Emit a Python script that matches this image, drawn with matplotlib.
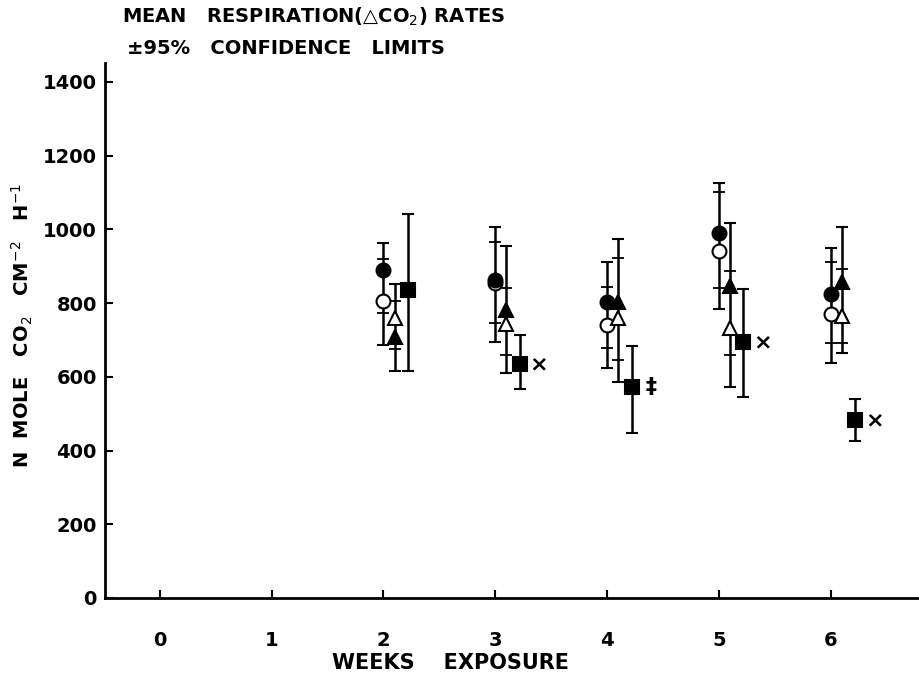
import matplotlib
matplotlib.use("Agg")
import matplotlib.pyplot as plt
import numpy as np

plt.rcParams['font.family'] = ['DejaVu Sans']

weeks = [2, 3, 4, 5, 6]
tick_weeks = [0, 1, 2, 3, 4, 5, 6]
y_ticks = [0, 200, 400, 600, 800, 1000, 1200, 1400]

# series means
fc_mean = [890, 862, 803, 990, 825]   # filled circle
oc_mean = [806, 855, 741, 941, 770]   # open circle
ft_mean = [708, 781, 803, 846, 857]   # filled triangle
ot_mean = [760, 743, 760, 733, 765]   # open triangle
sq_mean = [836, 635, 572, 694, 483]   # filled square

# shared confidence bars of the circle pair (outer caps, inner ticks)
circ_top = [963, 1006, 912, 1126, 950]
circ_in_top = [920, 966, 844, 1102, 911]
circ_in_bot = [773, 746, 678, 841, 692]
circ_bot = [686, 695, 624, 784, 638]

# shared confidence bars of the triangle pair
tri_top = [852, 955, 974, 1017, 1007]
tri_in_top = [806, 841, 922, 887, 893]
tri_in_bot = [676, 659, 646, 659, 692]
tri_bot = [616, 610, 586, 573, 665]

# square confidence limits
sq_top = [1042, 714, 684, 838, 540]
sq_bot = [616, 567, 448, 545, 426]

sig_weeks = [3, 4, 5, 6]
sig_marks = ['×', '‡', '×', '×']
sig_vals = [635, 572, 694, 483]

fig = plt.figure(figsize=(9.2, 6.79), dpi=100)
ax = fig.add_axes([0.1141, 0.1193, 0.8859, 0.7877])
ax.set_xlim(-0.49, 6.80)
ax.set_ylim(0, 1451)

lw = 1.8
capw = 8


def bar(offset, top, bot, in_top=None, in_bot=None):
    x = np.array(weeks) + offset
    ax.vlines(x, bot, top, color='black', lw=lw, zorder=2)
    for arr in (top, bot):
        ax.plot(x, arr, ls='none', marker='_', ms=capw, mew=1.5,
                color='black', zorder=2)
    for arr in (in_top, in_bot):
        if arr is not None:
            ax.plot(x, arr, ls='none', marker='_', ms=capw, mew=1.3,
                    color='black', zorder=2)


def points(offset, mean, marker, face, zo):
    x = np.array(weeks) + offset
    ax.plot(x, mean, ls='none', marker=marker, ms=10, mfc=face, mec='black',
            mew=1.5, zorder=zo)


bar(0.0, circ_top, circ_bot, circ_in_top, circ_in_bot)
bar(0.1, tri_top, tri_bot, tri_in_top, tri_in_bot)
bar(0.22, sq_top, sq_bot)

points(0.0, oc_mean, 'o', 'white', 3)
points(0.0, fc_mean, 'o', 'black', 4)
points(0.1, ft_mean, '^', 'black', 3)
points(0.1, ot_mean, '^', 'white', 4)
points(0.22, sq_mean, 's', 'black', 3)

for w, m, v in zip(sig_weeks, sig_marks, sig_vals):
    ax.text(w + 0.39, v, m, ha='center', va='center', fontsize=16,
            fontweight='bold')

ax.spines['top'].set_visible(False)
ax.spines['right'].set_visible(False)
ax.spines['left'].set_linewidth(2)
ax.spines['bottom'].set_linewidth(2)
ax.set_xticks(tick_weeks)
ax.set_xticklabels([str(w) for w in tick_weeks])
ax.set_yticks(y_ticks)
ax.set_yticklabels([str(v) for v in y_ticks])
ax.tick_params(axis='x', direction='in', length=6, width=1.5, pad=24,
               labelsize=14)
ax.tick_params(axis='y', direction='in', length=6, width=1.5, pad=6,
               labelsize=14)
for lab in ax.get_xticklabels() + ax.get_yticklabels():
    lab.set_fontweight('bold')

fig.text(0.133, 0.975, 'MEAN   RESPIRATION(\u25B3CO$_2$) RATES', ha='left',
         va='center', fontsize=14, fontweight='bold')
fig.text(0.138, 0.929, '\u00B195%   CONFIDENCE   LIMITS', ha='left',
         va='center', fontsize=14, fontweight='bold')
fig.text(0.49, 0.024, 'WEEKS    EXPOSURE', ha='center',
         va='center', fontsize=15, fontweight='bold')
fig.text(0.024, 0.52, 'N  MOLE   CO$_2$   CM$^{-2}$   H$^{-1}$', ha='center',
         va='center', rotation=90, fontsize=14, fontweight='bold')

fig.savefig('out.png', dpi=100)
